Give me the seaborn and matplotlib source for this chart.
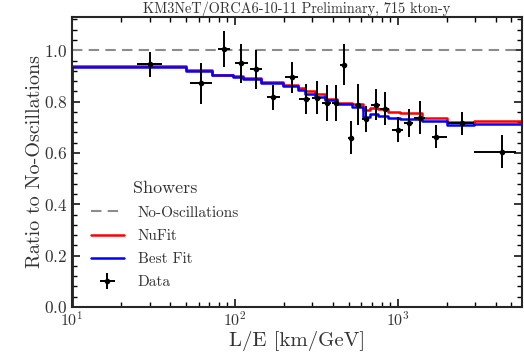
import numpy as np
import pandas as pd
import matplotlib
matplotlib.use("Agg")
import matplotlib.pyplot as plt
import seaborn as sns
from matplotlib.ticker import MultipleLocator

# ---- data ----
model_edges = [10, 50, 73, 97, 112, 146, 197, 244, 269, 310, 357, 422, 522,
               610, 673, 754, 868, 1028, 1422, 2000, 2965, 5800]
nufit_vals = [0.939, 0.922, 0.905, 0.899, 0.890, 0.877, 0.864, 0.852, 0.841,
              0.828, 0.812, 0.796, 0.789, 0.766, 0.776, 0.770, 0.761, 0.757,
              0.737, 0.720, 0.724]
bestfit_vals = [0.936, 0.919, 0.902, 0.896, 0.887, 0.874, 0.861, 0.844, 0.831,
                0.818, 0.805, 0.792, 0.778, 0.739, 0.750, 0.743, 0.737, 0.734,
                0.724, 0.707, 0.714]

data_x = [30, 62, 86, 110, 136, 171, 224, 273, 319, 367, 417, 467, 515, 569,
          637, 733, 832, 1000, 1168, 1364, 1734, 2470, 4400]
data_xlo = [25, 53, 79, 101, 125, 158, 205, 250, 300, 345, 395, 445, 495, 545,
            605, 690, 785, 930, 1090, 1260, 1620, 2030, 2965]
data_xhi = [36, 73, 94, 120, 148, 189, 245, 290, 340, 390, 440, 490, 540, 600,
            670, 780, 880, 1080, 1250, 1480, 2000, 2965, 5350]
data_y = [0.945, 0.871, 1.004, 0.949, 0.926, 0.816, 0.895, 0.810, 0.815, 0.795,
          0.795, 0.943, 0.659, 0.787, 0.733, 0.788, 0.773, 0.691, 0.718, 0.738,
          0.664, 0.715, 0.605]
data_yerr = [0.05, 0.08, 0.07, 0.075, 0.075, 0.05, 0.06, 0.06, 0.065, 0.07,
             0.07, 0.08, 0.065, 0.08, 0.05, 0.06, 0.065, 0.05, 0.055, 0.065,
             0.045, 0.045, 0.065]

title = "KM3NeT/ORCA6-10-11 Preliminary, 715 kton-y"
xlabel = "L/E [km/GeV]"
ylabel = "Ratio to No-Oscillations"
legend_title = "Showers"

# ---- style ----
sns.set_style("ticks")
plt.rcParams.update({
    "font.family": ["cmr10", "DejaVu Serif"],
    "mathtext.fontset": "cm",
    "axes.formatter.use_mathtext": True,
    "xtick.direction": "in",
    "ytick.direction": "in",
    "xtick.top": True,
    "ytick.right": True,
    "axes.linewidth": 1.5,
    "text.color": "#333333",
    "xtick.color": "black",
    "ytick.color": "black",
    "xtick.labelcolor": "#333333",
    "ytick.labelcolor": "#333333",
    "axes.labelcolor": "#333333",
})

fig = plt.figure(figsize=(5.24, 3.52), dpi=100)
ax = fig.add_axes([0.137, 0.128, 0.859, 0.824])


def step_frame(edges, vals, name):
    xs = [edges[0]] + list(edges) + [edges[-1]]
    ys = [0.0] + list(vals) + [vals[-1], 0.0]
    return pd.DataFrame({"x": xs, "y": ys, "model": name})


nf = step_frame(model_edges, nufit_vals, "NuFit")
bf = step_frame(model_edges, bestfit_vals, "Best Fit")

# no-oscillation reference
ref = pd.DataFrame({"x": [model_edges[0], model_edges[-1]], "y": [1.0, 1.0]})
sns.lineplot(data=ref, x="x", y="y", ax=ax, color="#8c8c8c", lw=1.5,
             estimator=None, linestyle=(0, (5, 3)), label="No-Oscillations")

sns.lineplot(data=nf, x="x", y="y", ax=ax, sort=False, estimator=None,
             drawstyle="steps-post", color="#ff0000", lw=1.8, label="NuFit")
sns.lineplot(data=bf, x="x", y="y", ax=ax, sort=False, estimator=None,
             drawstyle="steps-post", color="#0000ff", lw=1.8, label="Best Fit")

dx = np.array(data_x, float)
xerr = np.vstack([dx - np.array(data_xlo), np.array(data_xhi) - dx])
ax.errorbar(dx, data_y, xerr=xerr, yerr=data_yerr, fmt="o", color="black",
            ms=3, elinewidth=1.4, capsize=0, label="Data", zorder=5)

ax.set_xscale("log")
ax.set_xlim(10, 5800)
ax.set_ylim(0, 1.13)
ax.yaxis.set_major_locator(MultipleLocator(0.2))
ax.yaxis.set_minor_locator(MultipleLocator(0.04))
ax.tick_params(which="major", length=6, width=1.1, labelsize=11.5, pad=2)
ax.tick_params(axis="y", which="major", labelsize=12.5, pad=3)
ax.tick_params(which="minor", length=3.5, width=1.0)

ax.set_xlabel(xlabel, fontsize=15, labelpad=2)
ax.set_ylabel(ylabel, fontsize=14.5)
ax.yaxis.set_label_coords(-0.062, 0.5)
ax.set_title(title, fontsize=10.3, pad=3)

handles, labels = ax.get_legend_handles_labels()
leg = ax.legend(handles, labels, title=legend_title, loc="lower left",
                frameon=False, fontsize=11, title_fontsize=13,
                handlelength=2.2, handletextpad=0.9, borderaxespad=0.0,
                labelspacing=0.62, bbox_to_anchor=(0.028, 0.04))

fig.savefig("out.png", dpi=100)
